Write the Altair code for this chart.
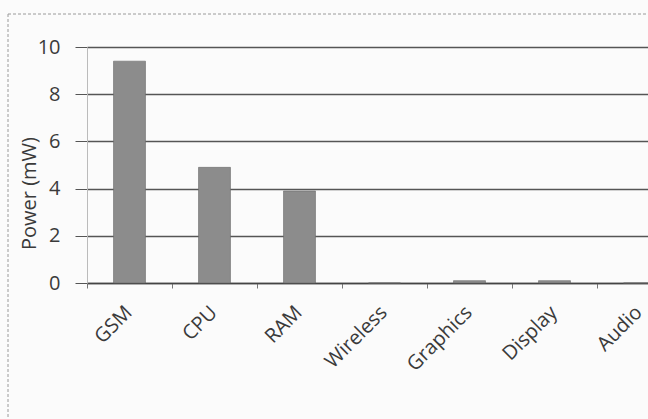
import altair as alt
import pandas as pd

# Average power draw per phone subsystem
components = ["GSM", "CPU", "RAM", "Wireless", "Graphics", "Display", "Audio"]
power_mw = [9.4, 4.9, 3.9, 0.0, 0.1, 0.1, 0.0]
y_ticks = [0, 2, 4, 6, 8, 10]

df = pd.DataFrame({"component": components, "power": power_mw})

FONT = "Open Sans"
INK = "#3a3a3a"

bars = alt.Chart(df).mark_bar(
    width=alt.RelativeBandSize(0.376),
    color="#8c8c8c",
    stroke="#6a6a6a",
    strokeWidth=0.6,
).encode(
    x=alt.X(
        "component:N",
        sort=components,
        scale=alt.Scale(range=[0, 595], paddingInner=0, paddingOuter=0),
        axis=alt.Axis(
            title=None,
            labelAngle=-45,
            labelFontSize=20,
            labelPadding=14,
            labelOffset=-8,
            tickBand="extent",
            tickSize=5,
            tickColor="#777777",
            domainColor="#444444",
            domainWidth=1.5,
            grid=False,
        ),
    ),
    y=alt.Y(
        "power:Q",
        scale=alt.Scale(domain=[0, 10], nice=False),
        axis=alt.Axis(
            title="Power (mW)",
            values=y_ticks,
            labelFontSize=20,
            titleFontSize=20,
            titleFontWeight="normal",
            titleAngle=-90,
            titleX=-58,
            titleY=146,
            titleAlign="center",
            titleBaseline="middle",
            tickSize=12,
            tickColor="#555555",
            labelPadding=15,
            domainColor="#bbbbbb",
            gridColor="#555555",
            gridWidth=1.4,
        ),
    ),
)

# dashed frame of the chart box (left and top edges)
frame_df = pd.DataFrame({"k": [0]})
left_edge = alt.Chart(frame_df).mark_rule(
    color="#9a9a9a", strokeDash=[3, 2], strokeWidth=1
).encode(x=alt.value(-79), y=alt.value(-33), y2=alt.value(372))
top_edge = alt.Chart(frame_df).mark_rule(
    color="#9a9a9a", strokeDash=[3, 2], strokeWidth=1
).encode(x=alt.value(-79), x2=alt.value(600), y=alt.value(-33))

chart = (
    alt.layer(left_edge, top_edge, bars)
    .properties(
        width=561,
        height=236,
        autosize=alt.AutoSizeParams(type="none"),
        padding={"left": 87, "top": 47, "right": 0, "bottom": 136},
        background="#fbfbfb",
    )
    .configure_view(stroke=None)
    .configure_axis(
        labelFont=FONT,
        titleFont=FONT,
        labelColor=INK,
        titleColor=INK,
    )
)

chart.save("out.html", embed_options={"renderer": "svg", "actions": False})
